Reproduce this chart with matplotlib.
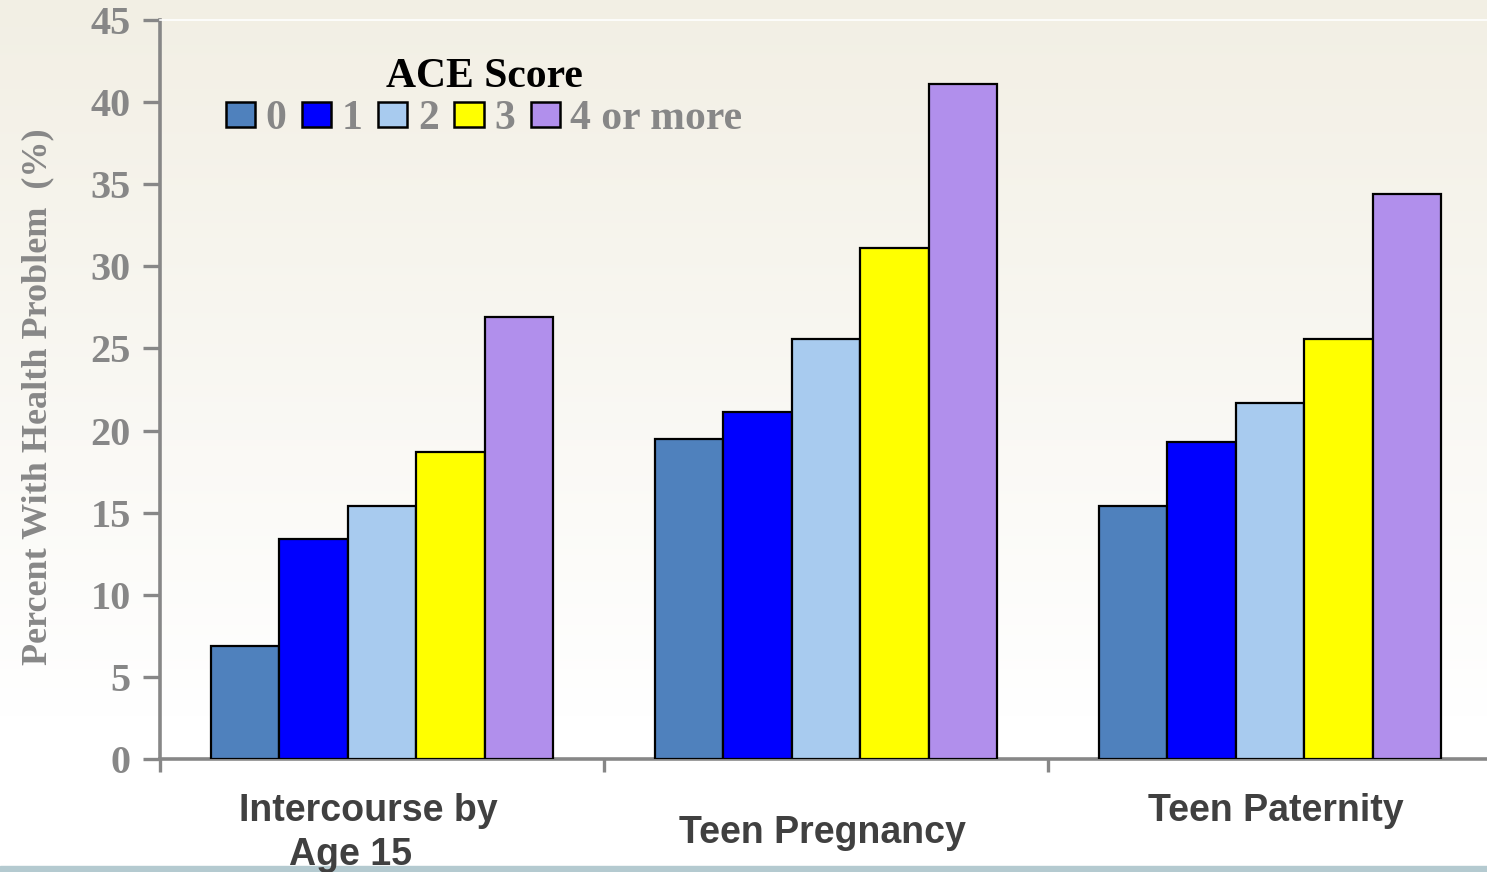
import numpy as np
import matplotlib
matplotlib.use("Agg")
import matplotlib.pyplot as plt
from matplotlib.patches import Patch
import matplotlib.transforms as mtransforms

categories = ["Intercourse by\nAge 15", "Teen Pregnancy", "Teen Paternity"]
series_labels = ["0", "1", "2", "3", "4 or more"]
series_values = [
    [6.9, 19.5, 15.4],    # ACE 0
    [13.4, 21.1, 19.3],   # ACE 1
    [15.4, 25.6, 21.7],   # ACE 2
    [18.7, 31.1, 25.6],   # ACE 3
    [26.9, 41.1, 34.4],   # ACE 4+
]
colors = ["#4F81BD", "#0000FF", "#A8CBEF", "#FFFF00", "#B18FEC"]
yticks = [0, 5, 10, 15, 20, 25, 30, 35, 40, 45]

W, H = 1487, 872
fig = plt.figure(figsize=(W / 100, H / 100), dpi=100)

# background gradient
bg = fig.add_axes([0, 0, 1, 1], zorder=-10)
top = np.array([242, 239, 228]) / 255.0
bot = np.array([255, 255, 255]) / 255.0
n = 400
t = np.clip(np.linspace(0, 1, n) / 0.82, 0, 1)[:, None]
grad = top[None, :] * (1 - t) + bot[None, :] * t
img = np.repeat(grad[:, None, :], 2, axis=1)
bg.imshow(img, aspect="auto", extent=[0, 1, 0, 1], origin="upper")
bg.axhspan(0, 6 / H, color="#B4CAD0")
bg.set_xlim(0, 1)
bg.set_ylim(0, 1)
bg.axis("off")

ax = fig.add_axes([160 / W, (H - 759) / H, (1492 - 160) / W, (759 - 20) / H])
ax.patch.set_alpha(0)

x = np.arange(len(categories))
bw = 0.1545
for i, (vals, c, lab) in enumerate(zip(series_values, colors, series_labels)):
    ax.bar(x + (i - 2) * bw, vals, width=bw, color=c, edgecolor="black",
           linewidth=1.6, label=lab, zorder=3)

ax.set_xlim(-0.5, 2.5)
ax.set_ylim(0, 45)
ax.set_yticks(yticks)
ax.set_yticklabels([str(v) for v in yticks], fontfamily="Liberation Serif",
                   fontweight="bold", fontsize=29, color="#878787")
ax.set_xticks([-0.5, 0.5, 1.5, 2.5])
ax.set_xticklabels([])
ax.tick_params(axis="y", length=12, width=2.4, color="#878787", pad=9)
ax.tick_params(axis="x", length=9, width=2.4, color="#878787")

for s in ["left", "bottom"]:
    ax.spines[s].set_color("#878787")
    ax.spines[s].set_linewidth(2.6)
ax.spines["right"].set_visible(False)
ax.spines["top"].set_color("white")
ax.spines["top"].set_linewidth(1.2)

# category labels (each line placed separately)
trans = mtransforms.blended_transform_factory(ax.transData, fig.transFigure)
line_y = [[811, 855], [833], [811]]
line_dx = [[-0.03, -0.07], [-0.008], [0.012]]
for xi, lab, ys, dxs in zip(x, categories, line_y, line_dx):
    for line, yy, dx in zip(lab.split("\n"), ys, dxs):
        ax.text(xi + dx, (H - yy) / H, line, transform=trans, ha="center", va="center",
                fontfamily="Liberation Sans", fontweight="bold", fontsize=27,
                color="#404040", clip_on=False)

ax.set_ylabel("Percent With Health Problem  (%)", fontfamily="Liberation Serif",
              fontweight="bold", fontsize=26, color="#878787")
ax.yaxis.set_label_coords(-0.079, 0.49)

handles = [Patch(facecolor=c, edgecolor="black", linewidth=1.8) for c in colors]
leg = ax.legend(handles, series_labels, ncol=5, loc="upper center",
                bbox_to_anchor=(484 / W, (H - 37) / H), bbox_transform=fig.transFigure,
                frameon=False, title="ACE Score",
                prop={"family": "Liberation Serif", "weight": "bold", "size": 30},
                title_fontproperties={"family": "Liberation Serif", "weight": "bold", "size": 30},
                handlelength=0.7, handleheight=0.55, handletextpad=0.25, columnspacing=0.38,
                borderpad=0, labelspacing=0.1)
for txt in leg.get_texts():
    txt.set_color("#878787")
leg.get_title().set_color("black")

fig.savefig("out.png", dpi=100)
